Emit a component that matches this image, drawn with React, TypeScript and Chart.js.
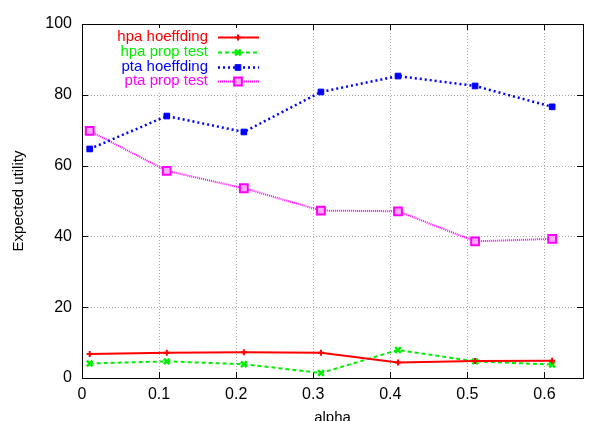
import React, { useEffect, useRef } from "react";
import { Chart, registerables } from "chart.js";

Chart.register(...registerables);

const alphas = [0.01, 0.11, 0.21, 0.31, 0.41, 0.51, 0.61];
const hpaHoeffding = [6.8, 7.1, 7.3, 7.1, 4.4, 4.8, 4.9];
const hpaPropTest = [4.1, 4.7, 3.9, 1.4, 7.9, 4.7, 3.8];
const ptaHoeffding = [64.7, 74.0, 69.5, 80.8, 85.3, 82.5, 76.6];
const ptaPropTest = [69.8, 58.5, 53.6, 47.3, 47.1, 38.6, 39.3];
const seriesNames = ["hpa hoeffding", "hpa prop test", "pta hoeffding", "pta prop test"];
const xTickValues = [0, 0.1, 0.2, 0.3, 0.4, 0.5, 0.6];
const yTickValues = [0, 20, 40, 60, 80, 100];

const FONT = "'Liberation Sans', Arial, Helvetica, sans-serif";

function marker(ctx: CanvasRenderingContext2D, ds: any, x: number, y: number) {
  const r = ds.pointRadius;
  ctx.save();
  ctx.setLineDash([]);
  ctx.strokeStyle = ds.borderColor;
  ctx.fillStyle = ds.pointBackgroundColor;
  ctx.lineWidth = ds.pointBorderWidth;
  ctx.beginPath();
  if (ds.pointStyle === "cross") {
    ctx.moveTo(x - r, y);
    ctx.lineTo(x + r, y);
    ctx.moveTo(x, y - r);
    ctx.lineTo(x, y + r);
    ctx.stroke();
  } else if (ds.pointStyle === "crossRot") {
    const d = r * 0.7071;
    ctx.moveTo(x - d, y - d);
    ctx.lineTo(x + d, y + d);
    ctx.moveTo(x + d, y - d);
    ctx.lineTo(x - d, y + d);
    ctx.stroke();
  } else {
    const s = r * 0.7071;
    ctx.rect(x - s, y - s, 2 * s, 2 * s);
    ctx.fill();
    ctx.stroke();
  }
  ctx.restore();
}

const framePlugin = {
  id: "frame",
  beforeDatasetsDraw(chart: any) {
    const { ctx, chartArea: a, scales } = chart;
    const xs = scales.x;
    const ys = scales.y;
    ctx.save();
    ctx.strokeStyle = "#aaa";
    ctx.lineWidth = 1;
    ctx.setLineDash([1, 2]);
    xTickValues.forEach((v) => {
      const px = Math.round(xs.getPixelForValue(v)) + 0.5;
      if (px <= a.left + 1 || px >= a.right - 1) return;
      ctx.beginPath();
      ctx.moveTo(px, a.top);
      ctx.lineTo(px, a.bottom);
      ctx.stroke();
    });
    yTickValues.forEach((v) => {
      const py = Math.round(ys.getPixelForValue(v)) + 0.5;
      if (py <= a.top + 1 || py >= a.bottom - 1) return;
      ctx.beginPath();
      ctx.moveTo(a.left, py);
      ctx.lineTo(a.right, py);
      ctx.stroke();
    });
    ctx.setLineDash([]);
    ctx.strokeStyle = "#000";
    const t = 6;
    xTickValues.forEach((v) => {
      const px = Math.round(xs.getPixelForValue(v)) + 0.5;
      ctx.beginPath();
      ctx.moveTo(px, a.bottom);
      ctx.lineTo(px, a.bottom - t);
      ctx.moveTo(px, a.top);
      ctx.lineTo(px, a.top + t);
      ctx.stroke();
    });
    yTickValues.forEach((v) => {
      const py = Math.round(ys.getPixelForValue(v)) + 0.5;
      ctx.beginPath();
      ctx.moveTo(a.left, py);
      ctx.lineTo(a.left + t, py);
      ctx.moveTo(a.right, py);
      ctx.lineTo(a.right - t, py);
      ctx.stroke();
    });
    ctx.strokeRect(Math.round(a.left) + 0.5, Math.round(a.top) + 0.5, Math.round(a.right - a.left), Math.round(a.bottom - a.top));
    ctx.restore();
  },
};

const legendPlugin = {
  id: "customLegend",
  afterDraw(chart: any) {
    const { ctx, chartArea: a } = chart;
    ctx.save();
    ctx.fillStyle = "#fff";
    ctx.fillRect(a.left + 28, a.top + 4, 152, 64);
    const rows = [37, 52, 67, 81];
    chart.data.datasets.forEach((ds: any, i: number) => {
      const y = rows[i];
      ctx.font = `15px ${FONT}`;
      ctx.fillStyle = ds.borderColor;
      ctx.textAlign = "right";
      ctx.textBaseline = "middle";
      ctx.fillText(ds.label, 208, y);
      ctx.strokeStyle = ds.borderColor;
      ctx.lineWidth = ds.borderWidth;
      ctx.setLineDash(ds.borderDash || []);
      ctx.beginPath();
      ctx.moveTo(218, y + 0.5);
      ctx.lineTo(259, y + 0.5);
      ctx.stroke();
      ctx.setLineDash([]);
      marker(ctx, ds, 238, y + 0.5);
    });
    ctx.restore();
  },
};

export default function App() {
  const ref = useRef<HTMLCanvasElement | null>(null);
  useEffect(() => {
    document.body.style.margin = "0";
    const toPts = (arr: number[]) => arr.map((v, i) => ({ x: alphas[i], y: v }));
    const chart = new Chart(ref.current as HTMLCanvasElement, {
      type: "line",
      data: {
        datasets: [
          {
            label: seriesNames[0],
            data: toPts(hpaHoeffding),
            borderColor: "#ff0000",
            backgroundColor: "#ff0000",
            pointBackgroundColor: "#ff0000",
            borderWidth: 2,
            pointStyle: "cross",
            pointRadius: 3,
            pointBorderWidth: 2,
          },
          {
            label: seriesNames[1],
            data: toPts(hpaPropTest),
            borderColor: "#00ee00",
            backgroundColor: "#00ee00",
            pointBackgroundColor: "#00ee00",
            borderWidth: 2,
            borderDash: [4, 3],
            pointStyle: "crossRot",
            pointRadius: 4,
            pointBorderWidth: 2.5,
          },
          {
            label: seriesNames[2],
            data: toPts(ptaHoeffding),
            borderColor: "#0000ff",
            backgroundColor: "#0000ff",
            pointBackgroundColor: "#0000ff",
            borderWidth: 2.5,
            borderDash: [2, 3],
            pointStyle: "rect",
            pointRadius: 4,
            pointBorderWidth: 1,
          },
          {
            label: seriesNames[3],
            data: toPts(ptaPropTest),
            borderColor: "#ff00ff",
            backgroundColor: "#ff00ff",
            pointBackgroundColor: "#ffaaff",
            borderWidth: 2,
            borderDash: [1, 1],
            pointStyle: "rect",
            pointRadius: 5.5,
            pointBorderWidth: 2,
          },
        ] as any,
      },
      options: {
        animation: false,
        responsive: false,
        maintainAspectRatio: false,
        layout: { padding: { top: 24, right: 22, left: 0, bottom: 0 } },
        plugins: { legend: { display: false }, tooltip: { enabled: false } },
        elements: { line: { tension: 0 } },
        scales: {
          x: {
            type: "linear",
            min: 0,
            max: 0.65,
            afterBuildTicks: (s: any) => {
              s.ticks = xTickValues.map((v) => ({ value: v }));
            },
            afterFit: (s: any) => {
              s.height = 43;
            },
            grid: { display: false, drawTicks: false },
            border: { display: false },
            ticks: {
              padding: 7,
              color: "#000",
              font: { family: FONT, size: 16 },
              maxRotation: 0,
              callback: (v: any) => String(Math.round(Number(v) * 10) / 10),
            },
            title: {
              display: true,
              text: "alpha",
              color: "#000",
              font: { family: FONT, size: 15 },
              padding: { top: -6, bottom: -6 },
            },
          },
          y: {
            min: 0,
            max: 100,
            afterBuildTicks: (s: any) => {
              s.ticks = yTickValues.map((v) => ({ value: v }));
            },
            afterFit: (s: any) => {
              s.width = 82;
            },
            grid: { display: false, drawTicks: false },
            border: { display: false },
            ticks: {
              padding: 10,
              color: "#000",
              font: { family: FONT, size: 16 },
            },
            title: {
              display: true,
              text: "Expected utility",
              color: "#000",
              font: { family: FONT, size: 15 },
              padding: { top: 10, bottom: 0 },
            },
          },
        },
      } as any,
      plugins: [framePlugin, legendPlugin],
    });
    return () => chart.destroy();
  }, []);
  return (
    <div style={{ width: 605, height: 421 }}>
      <canvas ref={ref} width={605} height={421} style={{ display: "block", width: 605, height: 421 }} />
    </div>
  );
}
